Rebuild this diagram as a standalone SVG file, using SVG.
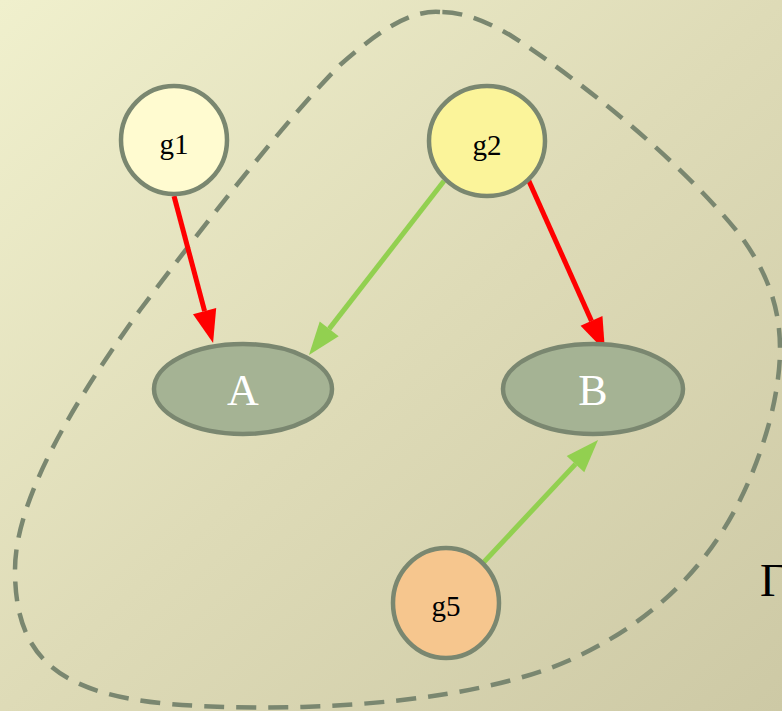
<svg xmlns="http://www.w3.org/2000/svg" width="782" height="711" viewBox="0 0 782 711">
<style>
.node{stroke:#7a8770;stroke-width:4.5}
.lbl{font-family:"Liberation Serif","DejaVu Serif",serif;text-anchor:middle}
.small{font-size:29px;fill:#000}
.big{font-size:44px;fill:#fff}
.edge{fill:none;stroke-width:5;stroke-linecap:butt}
.red{stroke:#ff0000}
.green{stroke:#92d050}
</style>
<defs>
<linearGradient id="bg" x1="0" y1="0" x2="1" y2="1">
<stop offset="0" stop-color="#f0f0cd"/>
<stop offset="0.5" stop-color="#dedbb7"/>
<stop offset="1" stop-color="#cdc9a5"/>
</linearGradient>
<marker id="ar" markerUnits="userSpaceOnUse" markerWidth="36" markerHeight="28" refX="0" refY="12" orient="auto" overflow="visible">
<path d="M0,0 L33,12 L0,24 Z" fill="#ff0000"/>
</marker>
<marker id="ag" markerUnits="userSpaceOnUse" markerWidth="36" markerHeight="28" refX="0" refY="12" orient="auto" overflow="visible">
<path d="M0,0 L33,12 L0,24 Z" fill="#92d050"/>
</marker>
</defs>
<rect width="782" height="711" fill="url(#bg)"/>
<path id="hull" d="M440 12 C410 10 380 30 340 65 C290 115 200 230 140 310 C90 380 15 490 15 570 C15 660 60 700 200 706 C330 712 480 700 570 660 C680 610 740 530 770 420 C790 340 780 290 740 235 C680 160 580 80 510 35 C480 18 460 12 440 12 Z" fill="none" stroke="#7a8770" stroke-width="4.5" stroke-dasharray="20 12"/>
<g id="edges">
<line class="edge red" x1="174" y1="196" x2="204.6" y2="311.1" marker-end="url(#ar)"/>
<line class="edge green" x1="444" y1="181" x2="329.2" y2="328.9" marker-end="url(#ag)"/>
<line class="edge red" x1="528" y1="179" x2="591.5" y2="320.9" marker-end="url(#ar)"/>
<line class="edge green" x1="483" y1="563" x2="575.5" y2="464.1" marker-end="url(#ag)"/>
</g>
<g id="g1"><ellipse class="node" cx="174" cy="140" rx="53" ry="54" fill="#fffbd0"/><text class="lbl small" x="174" y="154">g1</text></g>
<g id="g2"><ellipse class="node" cx="487" cy="141" rx="58" ry="55" fill="#fbf49a"/><text class="lbl small" x="487" y="155">g2</text></g>
<g id="A"><ellipse class="node" cx="243" cy="389" rx="89" ry="45" fill="#a5b394"/><text class="lbl big" x="243" y="405">A</text></g>
<g id="B"><ellipse class="node" cx="593" cy="389" rx="90" ry="45" fill="#a5b394"/><text class="lbl big" x="593" y="405">B</text></g>
<g id="g5"><ellipse class="node" cx="446" cy="603" rx="53" ry="55" fill="#f6c68e"/><text class="lbl small" x="446" y="616">g5</text></g>
<text class="lbl" x="760" y="596" style="text-anchor:start;font-size:46px;fill:#000">Γ</text>
</svg>
